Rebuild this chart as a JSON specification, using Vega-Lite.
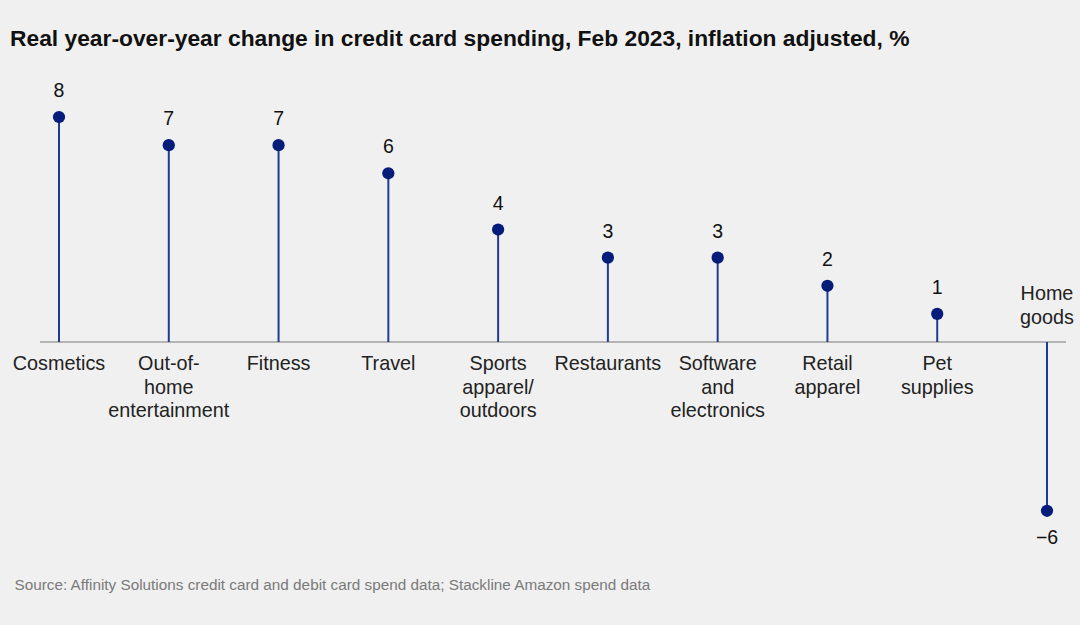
{
  "$schema": "https://vega.github.io/schema/vega-lite/v6.json",
  "width": 1080,
  "height": 560,
  "autosize": "none",
  "padding": {"top": 65, "left": 0, "right": 0, "bottom": 0},
  "background": "#f0f0f0",
  "config": {"view": {"stroke": null}, "font": "Liberation Sans"},
  "title": {
    "text": "Real year-over-year change in credit card spending, Feb 2023, inflation adjusted, %",
    "anchor": "start",
    "frame": "group",
    "dx": 10,
    "offset": 14,
    "fontSize": 22.8,
    "fontWeight": "bold",
    "color": "#111111",
    "font": "Liberation Sans"
  },
  "data": {
    "values": [
      {"category": "Cosmetics", "value": 8, "label": "8", "name": "Cosmetics"},
      {"category": "Out-of-home entertainment", "value": 7, "label": "7", "name": "Out-of-\nhome\nentertainment"},
      {"category": "Fitness", "value": 7, "label": "7", "name": "Fitness"},
      {"category": "Travel", "value": 6, "label": "6", "name": "Travel"},
      {"category": "Sports apparel/outdoors", "value": 4, "label": "4", "name": "Sports\napparel/\noutdoors"},
      {"category": "Restaurants", "value": 3, "label": "3", "name": "Restaurants"},
      {"category": "Software and electronics", "value": 3, "label": "3", "name": "Software\nand\nelectronics"},
      {"category": "Retail apparel", "value": 2, "label": "2", "name": "Retail\napparel"},
      {"category": "Pet supplies", "value": 1, "label": "1", "name": "Pet\nsupplies"},
      {"category": "Home goods", "value": -6, "label": "\u22126", "name": "Home\ngoods"}
    ]
  },
  "encoding": {
    "x": {
      "field": "category",
      "type": "nominal",
      "sort": null,
      "scale": {
        "type": "point",
        "range": [59, 1047],
        "padding": 0,
        "domain": ["Cosmetics", "Out-of-home entertainment", "Fitness", "Travel", "Sports apparel/outdoors", "Restaurants", "Software and electronics", "Retail apparel", "Pet supplies", "Home goods"]
      },
      "axis": {
        "labels": false,
        "ticks": false,
        "domain": false,
        "grid": false,
        "title": "Source: Affinity Solutions credit card and debit card spend data; Stackline Amazon spend data",
        "titleX": 14,
        "titleY": -36,
        "titleAlign": "left",
        "titleAnchor": "start",
        "titleBaseline": "alphabetic",
        "titleFont": "Liberation Sans",
        "titleFontSize": 15.3,
        "titleFontWeight": "normal",
        "titleColor": "#7a7a7a"
      }
    }
  },
  "layer": [
    {
      "mark": {"type": "rule", "color": "#b4b4b4", "strokeWidth": 1.2, "xOffset": -19, "x2Offset": 19},
      "encoding": {
        "x": {"datum": "Cosmetics"},
        "x2": {"datum": "Home goods"},
        "y": {"datum": 0, "type": "quantitative", "scale": {"domain": [-10.062, 9.849], "nice": false, "zero": false}, "axis": null}
      }
    },
    {
      "mark": {"type": "rule", "color": "#1f3b96", "strokeWidth": 2},
      "encoding": {
        "y": {"field": "value", "type": "quantitative", "axis": null},
        "y2": {"datum": 0}
      }
    },
    {
      "mark": {"type": "point", "filled": true, "opacity": 1, "color": "#061c7b", "size": 150},
      "encoding": {
        "y": {"field": "value", "type": "quantitative", "axis": null}
      }
    },
    {
      "transform": [{"filter": "datum.value > 0"}],
      "mark": {"type": "text", "fontSize": 19.5, "color": "#111111", "baseline": "middle", "dy": -26, "font": "Liberation Sans"},
      "encoding": {
        "y": {"field": "value", "type": "quantitative", "axis": null},
        "text": {"field": "label"}
      }
    },
    {
      "transform": [{"filter": "datum.value < 0"}],
      "mark": {"type": "text", "fontSize": 19.5, "color": "#111111", "baseline": "middle", "dy": 27, "font": "Liberation Sans"},
      "encoding": {
        "y": {"field": "value", "type": "quantitative", "axis": null},
        "text": {"field": "label"}
      }
    },
    {
      "transform": [{"filter": "datum.value > 0"}],
      "mark": {"type": "text", "fontSize": 19.8, "color": "#222222", "baseline": "top", "dy": 12, "lineBreak": "\n", "lineHeight": 23.5, "font": "Liberation Sans"},
      "encoding": {
        "y": {"datum": 0, "type": "quantitative"},
        "text": {"field": "name"}
      }
    },
    {
      "transform": [{"filter": "datum.value < 0"}],
      "mark": {"type": "text", "fontSize": 19.8, "color": "#222222", "baseline": "bottom", "dy": -38, "lineBreak": "\n", "lineHeight": 23.5, "font": "Liberation Sans"},
      "encoding": {
        "y": {"datum": 0, "type": "quantitative"},
        "text": {"field": "name"}
      }
    }
  ]
}
